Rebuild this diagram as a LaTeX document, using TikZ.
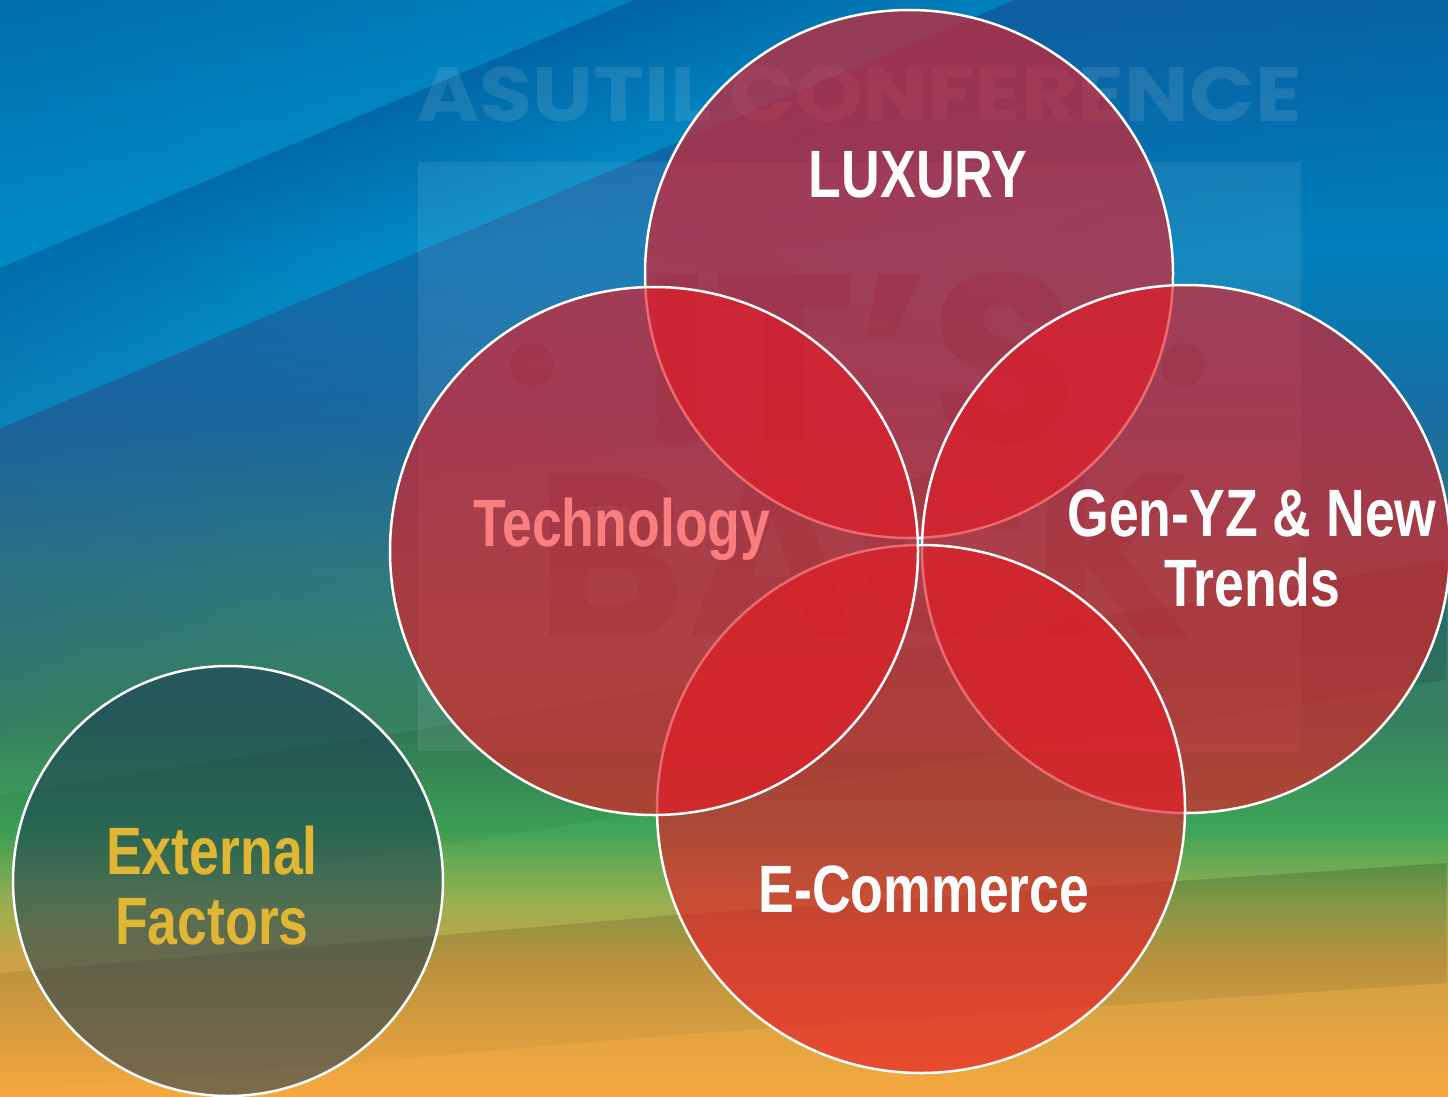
\documentclass[tikz,border=0pt]{standalone}
\usepackage{fontspec}
\usepackage{tikz}
\usetikzlibrary{positioning,fadings}
\newfontfamily\lblfont{Liberation Sans}[FakeStretch=0.8]
\newfontfamily\markfont{Poppins}
\newfontfamily\markwide{Poppins}[FakeStretch=1.12]
\definecolor{BgBlueTop}{RGB}{0,102,166}
\definecolor{BgBlue}{RGB}{0,128,188}
\definecolor{BgSteel}{RGB}{24,110,160}
\definecolor{BgTeal}{RGB}{46,122,128}
\definecolor{BgMoss}{RGB}{54,128,94}
\definecolor{BgGreen}{RGB}{62,165,86}
\definecolor{BgLime}{RGB}{150,176,80}
\definecolor{BgSand}{RGB}{205,160,68}
\definecolor{BgOrange}{RGB}{246,168,62}
\definecolor{BandDark}{RGB}{0,98,162}
\definecolor{BandLight}{RGB}{0,146,204}
\definecolor{BandShadow}{RGB}{34,84,152}
\definecolor{BubbleRed}{RGB}{228,28,38}
\definecolor{BubbleTeal}{RGB}{25,58,82}
\definecolor{TechPink}{RGB}{250,126,128}
\definecolor{ExtGold}{RGB}{225,182,50}
\pgfdeclareverticalshading{bgshade}{100bp}{color(0bp)=(BgOrange); color(25bp)=(BgOrange);
  color(31.2bp)=(BgSand); color(34bp)=(BgLime); color(37.2bp)=(BgGreen); color(42.2bp)=(BgMoss);
  color(49.5bp)=(BgTeal); color(55.9bp)=(BgSteel); color(63.6bp)=(BgBlue); color(75bp)=(BgBlueTop);
  color(100bp)=(BgBlueTop)}

\begin{document}
\begin{tikzpicture}[x=1pt,y=-1pt,
  bubble/.style={circle,draw=white,line width=2.5pt,fill=BubbleRed,fill opacity=0.66,
                 minimum size=528pt,inner sep=0pt,outer sep=0pt},
  lbl/.style={font=\lblfont\bfseries\fontsize{67}{70}\selectfont,align=center,inner sep=0pt},
  wmark/.style={font=\markfont\bfseries,inner sep=0pt,anchor=base}]
\useasboundingbox (0,0) rectangle (1448,1097);
\clip (0,0) rectangle (1448,1097);

% backdrop with its folded bands
\shade[shading=bgshade] (0,0) rectangle (1448,1097);
\begin{scope}[transform canvas={shift={(0,268)},rotate=22.9}]
  \shade[top color=BandDark,bottom color=BandLight,opacity=0.6] (-900,-400) rectangle (1700,0);
  \shade[top color=BandDark,bottom color=BandLight,opacity=0.6] (-900,0) rectangle (1700,148);
  \fill[BandShadow,opacity=0.4,path fading=south] (-900,148) rectangle (1700,460);
\end{scope}
\fill[black,opacity=0.16,path fading=south] (0,795) -- (460,723) -- (1448,560) -- (1448,680) -- (460,843) -- (0,915) -- cycle;
\fill[black,opacity=0.16,path fading=south] (0,973) -- (700,913) -- (1448,863) -- (1448,983) -- (700,1033) -- (0,1093) -- cycle;

% watermark
\fill[white,opacity=0.08] (418,162) rectangle (1301,751);
\node[wmark,text=white,text opacity=0.1,font=\markwide\bfseries\fontsize{77}{77}\selectfont] (wmtitle) at (859,122) {ASUTIL CONFERENCE};
\node[wmark,text=black,text opacity=0.14,font=\markfont\bfseries\fontsize{240}{240}\selectfont] (wmits) at (860,443) {IT’S};
\node[wmark,text=black,text opacity=0.12,font=\markfont\bfseries\fontsize{230}{230}\selectfont] (wmback) at (864,636) {BACK};
\fill[black,opacity=0.12] (532,365) circle (22) (1183,365) circle (22);

% the four overlapping bubbles and the lone one
\node[bubble] (lux) at (909,274) {};
\node[bubble] (genyz) at (1186,549) {};
\node[bubble] (ecom) at (921,809) {};
\node[bubble] (tech) at (654,551) {};
\node[bubble,fill=BubbleTeal,fill opacity=0.55,minimum size=430pt] (ext) at (228,881) {};

\node[lbl,text=white,anchor=base] (luxlbl) at (918,197) {LUXURY};
\node[lbl,text=TechPink,anchor=base] (techlbl) at (622,546) {Technology};
\node[lbl,text=white] (genyzlbl) at (1252,548) {Gen-YZ \& New\\Trends};
\node[lbl,text=white,anchor=base] (ecomlbl) at (924,912) {E-Commerce};
\node[lbl,text=ExtGold] (extlbl) at (212,886) {External\\Factors};
\end{tikzpicture}
\end{document}
